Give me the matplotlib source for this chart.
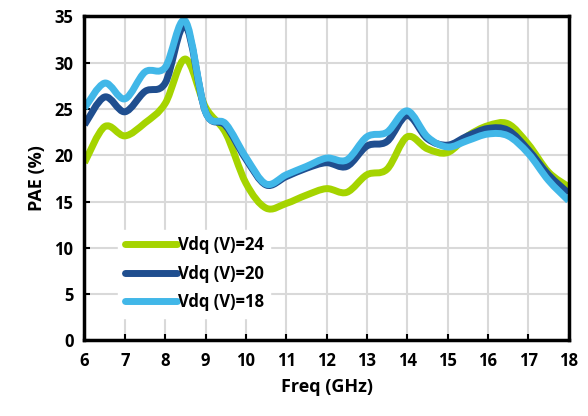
import matplotlib
matplotlib.use("Agg")
import matplotlib.pyplot as plt
from matplotlib.path import Path
from matplotlib.patches import PathPatch
from matplotlib.lines import Line2D
import numpy as np

plt.rcParams['font.family'] = ['Open Sans', 'DejaVu Sans']

freq = [6, 6.5, 7, 7.5, 8, 8.5, 9, 9.5, 10, 10.5, 11, 11.5, 12, 12.5, 13, 13.5,
        14, 14.5, 15, 15.5, 16, 16.5, 17, 17.5, 18]
pae_24 = [19.2, 23.1, 22.1, 23.5, 25.6, 30.4, 25.2, 22.4, 17.0, 14.3, 14.8, 15.7,
          16.4, 16.0, 17.9, 18.5, 22.0, 20.7, 20.3, 22.1, 23.2, 23.4, 21.2, 18.2, 16.6]
pae_20 = [23.3, 26.3, 24.7, 26.9, 27.8, 34.0, 24.7, 23.2, 19.6, 16.8, 17.7, 18.6,
          19.2, 18.8, 21.0, 21.5, 24.3, 21.8, 21.1, 22.1, 22.9, 22.7, 20.6, 17.9, 15.9]
pae_18 = [25.1, 27.8, 26.1, 29.0, 29.5, 34.5, 24.7, 23.4, 19.8, 16.9, 17.9, 18.8,
          19.7, 19.5, 22.0, 22.5, 24.8, 22.0, 20.9, 21.6, 22.3, 22.1, 20.2, 17.3, 15.1]
labels = ["Vdq (V)=24", "Vdq (V)=20", "Vdq (V)=18"]
colors = ["#a5d400", "#1f4e8f", "#41b7e8"]

x_ticks = list(range(6, 19))
y_ticks = list(range(0, 36, 5))


def smooth_path(xs, ys, t=1/6):
    xs = np.asarray(xs, float)
    ys = np.asarray(ys, float)
    n = len(xs)
    verts = [(xs[0], ys[0])]
    codes = [Path.MOVETO]
    for i in range(n - 1):
        i0 = max(i - 1, 0)
        i3 = min(i + 2, n - 1)
        c1 = (xs[i] + (xs[i + 1] - xs[i0]) * t, ys[i] + (ys[i + 1] - ys[i0]) * t)
        c2 = (xs[i + 1] - (xs[i3] - xs[i]) * t, ys[i + 1] - (ys[i3] - ys[i]) * t)
        verts += [c1, c2, (xs[i + 1], ys[i + 1])]
        codes += [Path.CURVE4] * 3
    return Path(verts, codes)


fig = plt.figure(figsize=(5.88, 4.16), dpi=100)
ax = fig.add_axes([0.1437, 0.1815, 0.8233, 0.779])

handles = []
for ys, lab, col in zip([pae_24, pae_20, pae_18], labels, colors):
    patch = PathPatch(smooth_path(freq, ys), facecolor='none', edgecolor=col,
                      lw=5, capstyle='butt', joinstyle='round', zorder=3)
    ax.add_patch(patch)
    handles.append(Line2D([], [], color=col, lw=5, solid_capstyle='round', label=lab))

ax.set_xlim(6, 18)
ax.set_ylim(0, 35)
ax.set_xticks(x_ticks)
ax.set_yticks(y_ticks)
ax.grid(True, color='#d9d9d9', lw=1.5, zorder=0)
ax.set_axisbelow(True)
for s in ax.spines.values():
    s.set_linewidth(2.5)
    s.set_color('black')
    s.set_zorder(5)
ax.tick_params(direction='in', length=4, width=1.5, labelsize=12, pad=8)
for lbl in ax.get_xticklabels() + ax.get_yticklabels():
    lbl.set_fontweight('bold')
ax.set_xlabel("Freq (GHz)", fontsize=13, fontweight='bold', labelpad=6)
ax.set_ylabel("PAE (%)", fontsize=13, fontweight='bold', labelpad=6)

leg = ax.legend(handles=handles, loc='lower left', bbox_to_anchor=(0.053, 0.045),
                frameon=True, fancybox=False, framealpha=1, edgecolor='white',
                prop={'weight': 'bold', 'size': 12}, handlelength=3.1,
                handletextpad=0.05, labelspacing=0.62, borderpad=0.4)
leg.set_zorder(4)

fig.savefig("out.png", dpi=100)
